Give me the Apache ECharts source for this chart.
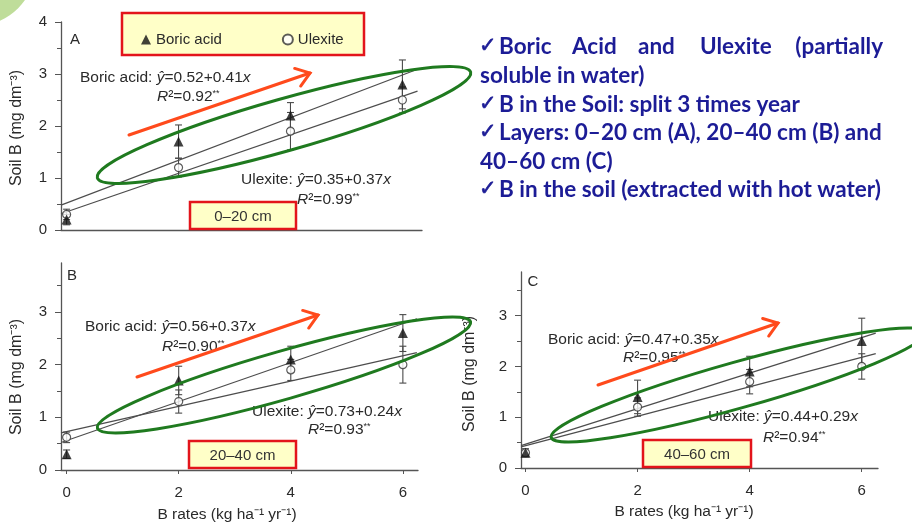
<!DOCTYPE html>
<html>
<head>
<meta charset="utf-8">
<script src="https://cdn.jsdelivr.net/npm/echarts@6/dist/echarts.min.js"></script>
<style>
  html, body { margin: 0; padding: 0; background: #ffffff; }
  #chart { width: 912px; height: 525px; }
</style>
</head>
<body>
<div id="chart"></div>
<script>
// B application rates (kg ha-1 yr-1)
const rates = [0, 2, 4, 6];
const rateTicks = [0, 2, 4, 6];

// Soil B (mg dm-3), hot-water extraction, per soil layer
const boricA = [0.2, 1.7, 2.2, 2.8];
const boricErrA = [0.1, 0.32, 0.25, 0.47];
const ulexA = [0.3, 1.2, 1.9, 2.5];
const ulexErrA = [0.1, 0.18, 0.36, 0.25];

const boricB = [0.3, 1.7, 2.1, 2.6];
const boricErrB = [0.08, 0.27, 0.25, 0.35];
const ulexB = [0.62, 1.3, 1.9, 2.0];
const ulexErrB = [0.1, 0.22, 0.2, 0.35];

const boricC = [0.3, 1.4, 1.9, 2.5];
const boricErrC = [0.05, 0.33, 0.3, 0.45];
const ulexC = [0.3, 1.2, 1.7, 2.0];
const ulexErrC = [0.08, 0.18, 0.24, 0.25];

// Linear fits: y = a + b x
const boricIntercept = [0.52, 0.56, 0.47];
const boricSlope = [0.41, 0.37, 0.35];
const boricR2 = [0.92, 0.90, 0.95];
const ulexIntercept = [0.35, 0.73, 0.44];
const ulexSlope = [0.37, 0.24, 0.29];
const ulexR2 = [0.99, 0.93, 0.94];

const panelLetters = ['A', 'B', 'C'];
const layerLabels = ['0–20 cm', '20–40 cm', '40–60 cm'];
const yTicksA = [0, 1, 2, 3, 4];
const yTicksBC = [0, 1, 2, 3];
const yMinorA = [0.5, 1.5, 2.5, 3.5];
const yMinorBC = [0.5, 1.5, 2.5, 3.5];

const seriesNames = ['Boric acid', 'Ulexite'];
const yAxisName = 'Soil B (mg dm⁻³)';
const xAxisName = 'B rates (kg ha⁻¹ yr⁻¹)';

const bullets = [
  'soluble in water)',
  'B in the Soil: split 3 times year',
  'Layers: 0–20 cm (A), 20–40 cm (B) and',
  '40–60 cm (C)',
  'B in the soil (extracted with hot water)'
];
const firstBulletWords = ['Boric', 'Acid', 'and', 'Ulexite', '(partially'];

// ---- layout ----
const FONT = '"Liberation Sans", Arial, sans-serif';
const grids = [
  { left: 61, top: 22, width: 361, height: 208 },
  { left: 61, top: 263, width: 357, height: 207 },
  { left: 521, top: 272, width: 357, height: 196 }
];
const xRange = [[-0.1, 6.35], [-0.1, 6.27], [-0.08, 6.29]];
const yMax = [4, 3.93, 3.86];
const fitEnd = [6.27, 6.25, 6.25];

const boric = [boricA, boricB, boricC];
const boricErr = [boricErrA, boricErrB, boricErrC];
const ulex = [ulexA, ulexB, ulexC];
const ulexErr = [ulexErrA, ulexErrB, ulexErrC];

const AXIS = '#555';
const TXT = '#2a2a2a';

function errorBar(params, api) {
  const x = api.value(0);
  const lo = api.coord([x, api.value(1)]);
  const hi = api.coord([x, api.value(2)]);
  const cap = 3.5;
  const st = { stroke: '#4a4a4a', lineWidth: 1.1 };
  return {
    type: 'group',
    children: [
      { type: 'line', shape: { x1: hi[0], y1: hi[1], x2: lo[0], y2: lo[1] }, style: st },
      { type: 'line', shape: { x1: hi[0] - cap, y1: hi[1], x2: hi[0] + cap, y2: hi[1] }, style: st },
      { type: 'line', shape: { x1: lo[0] - cap, y1: lo[1], x2: lo[0] + cap, y2: lo[1] }, style: st }
    ]
  };
}

const xAxes = [], yAxes = [], series = [];
grids.forEach((g, i) => {
  const showX = i > 0;
  xAxes.push({
    type: 'value', gridIndex: i, position: 'bottom', min: xRange[i][0], max: xRange[i][1],
    axisLine: { show: true, onZero: false, lineStyle: { color: AXIS, width: 1.3 } },
    axisTick: { show: showX, customValues: rateTicks, length: 4, lineStyle: { color: AXIS } },
    axisLabel: { show: showX, customValues: rateTicks, margin: 15, fontSize: 15, color: TXT, fontFamily: FONT },
    splitLine: { show: false }
  });
  const yt = i === 0 ? yTicksA : yTicksBC;
  const ym = i === 0 ? yMinorA : yMinorBC;
  yAxes.push({
    type: 'value', gridIndex: i, position: 'left', offset: 0, min: 0, max: yMax[i],
    axisLine: { show: true, onZero: false, lineStyle: { color: AXIS, width: 1.3 } },
    axisTick: { show: true, customValues: yt, length: 6, lineStyle: { color: AXIS } },
    axisLabel: { customValues: yt, margin: 14, fontSize: 15, color: TXT, fontFamily: FONT },
    splitLine: { show: false }
  });
  yAxes.push({
    type: 'value', gridIndex: i, position: 'left', offset: 0, min: 0, max: yMax[i],
    axisLine: { show: false, onZero: false },
    axisTick: { show: true, customValues: ym, length: 4, lineStyle: { color: AXIS } },
    axisLabel: { show: false },
    splitLine: { show: false }
  });

  const yi = 2 * i;
  // fitted regression lines
  [[boricIntercept, boricSlope], [ulexIntercept, ulexSlope]].forEach(([a, b], k) => {
    const x0 = xRange[i][0], x1 = fitEnd[i];
    series.push({
      type: 'line', name: seriesNames[k] + ' fit', xAxisIndex: i, yAxisIndex: yi,
      data: [[x0, a[i] + b[i] * x0], [x1, a[i] + b[i] * x1]],
      showSymbol: false, silent: true, z: 1,
      lineStyle: { color: '#4d4d4d', width: 1.2 }
    });
  });
  // error bars
  [[boric[i], boricErr[i]], [ulex[i], ulexErr[i]]].forEach(([m, e], k) => {
    series.push({
      type: 'custom', name: seriesNames[k] + ' sd', xAxisIndex: i, yAxisIndex: yi,
      renderItem: errorBar, silent: true, z: 2,
      encode: { x: 0, y: [1, 2] },
      data: rates.map((x, j) => [x, m[j] - e[j], m[j] + e[j]])
    });
  });
  // means
  series.push({
    type: 'scatter', name: seriesNames[0], xAxisIndex: i, yAxisIndex: yi,
    symbol: 'triangle', symbolSize: 10, z: 4,
    itemStyle: { color: '#111' },
    data: rates.map((x, j) => [x, boric[i][j]])
  });
  series.push({
    type: 'scatter', name: seriesNames[1], xAxisIndex: i, yAxisIndex: yi,
    symbol: 'circle', symbolSize: 8, z: 3,
    itemStyle: { color: '#fff', borderColor: '#333', borderWidth: 1.2 },
    data: rates.map((x, j) => [x, ulex[i][j]])
  });
});

// ---- annotations ----
const graphic = [];

// decorative corner leaf
graphic.push({ type: 'circle', shape: { cx: -25, cy: -35, r: 61 }, style: { fill: '#bfdd9a' }, z: 0 });

// legend frame
graphic.push({ type: 'rect', shape: { x: 122, y: 13, width: 242, height: 42 },
  style: { fill: '#ffffc8', stroke: '#e3141b', lineWidth: 2.5 }, z: 0 });

// layer tags
const tagBoxes = [
  { x: 190, y: 202, width: 106, height: 27 },
  { x: 189, y: 441, width: 107, height: 27 },
  { x: 643, y: 440, width: 108, height: 27 }
];
tagBoxes.forEach((b, i) => {
  graphic.push({ type: 'rect', shape: b, style: { fill: '#ffffc8', stroke: '#e3141b', lineWidth: 2.5 }, z: 5 });
  graphic.push({ type: 'text', x: b.x + b.width / 2, y: b.y + b.height / 2 + 1, z: 6,
    style: { text: layerLabels[i], fill: '#333', font: '15px ' + FONT, textAlign: 'center', textVerticalAlign: 'middle' } });
});

// panel letters
const letterPos = [[75, 40], [72, 276], [533, 282]];
letterPos.forEach((p, i) => graphic.push({ type: 'text', x: p[0], y: p[1], z: 6,
  style: { text: panelLetters[i], fill: TXT, font: '15px ' + FONT, textAlign: 'center', textVerticalAlign: 'middle' } }));

// axis titles
const yTitlePos = [[17, 128], [17, 377], [470, 374]];
yTitlePos.forEach(p => graphic.push({ type: 'text', x: p[0], y: p[1], rotation: Math.PI / 2, z: 6,
  style: { text: yAxisName, fill: TXT, font: '16px ' + FONT, textAlign: 'center', textVerticalAlign: 'middle' } }));
const xTitlePos = [[227, 515], [684, 512]];
xTitlePos.forEach(p => graphic.push({ type: 'text', x: p[0], y: p[1], z: 6,
  style: { text: xAxisName, fill: TXT, font: '15.5px ' + FONT, textAlign: 'center', textVerticalAlign: 'middle' } }));

// regression equations
const rich = {
  i: { fontStyle: 'italic', fontSize: 15.5, fontFamily: FONT, fill: TXT },
  s: { fontSize: 9, fontFamily: FONT, verticalAlign: 'top', fill: TXT }
};
function eqText(name, a, b) {
  return name + ': {i|ŷ}=' + a.toFixed(2) + '+' + b.toFixed(2) + '{i|x}';
}
function r2Text(r) {
  return '{i|R}²=' + r.toFixed(2) + '{s|**}';
}
const eqPos = [
  { boric: [80, 78], boricR: [157, 97], ulex: [241, 180], ulexR: [297, 200] },
  { boric: [85, 327], boricR: [162, 347], ulex: [252, 412], ulexR: [308, 430] },
  { boric: [548, 340], boricR: [623, 358], ulex: [708, 417], ulexR: [763, 438] }
];
eqPos.forEach((p, i) => {
  const items = [
    [p.boric, eqText(seriesNames[0], boricIntercept[i], boricSlope[i])],
    [p.boricR, r2Text(boricR2[i])],
    [p.ulex, eqText(seriesNames[1], ulexIntercept[i], ulexSlope[i])],
    [p.ulexR, r2Text(ulexR2[i])]
  ];
  items.forEach(([pos, txt]) => graphic.push({ type: 'text', x: pos[0], y: pos[1], z: 6,
    style: { text: txt, rich, fill: TXT, font: '15.5px ' + FONT, textAlign: 'left', textVerticalAlign: 'middle' } }));
});

// highlight ellipses
const ellipses = [
  { cx: 284, cy: 125, rx: 194, ry: 26, rot: 15.8 },
  { cx: 284, cy: 375, rx: 194, ry: 24, rot: 15.9 },
  { cx: 738, cy: 385, rx: 194, ry: 23, rot: 15.7 }
];
ellipses.forEach(e => graphic.push({ type: 'ellipse', z: 7,
  shape: { cx: e.cx, cy: e.cy, rx: e.rx, ry: e.ry },
  originX: e.cx, originY: e.cy, rotation: e.rot * Math.PI / 180,
  style: { fill: 'none', stroke: '#1f7a1f', lineWidth: 3 } }));

// trend arrows
const arrows = [[129, 135, 310, 73], [137, 377, 318, 315], [598, 385, 778, 323]];
arrows.forEach(([x1, y1, x2, y2]) => {
  const ang = Math.atan2(y2 - y1, x2 - x1);
  const L = 16, spread = 0.62;
  const st = { stroke: '#ff4a1c', lineWidth: 3, lineCap: 'round', fill: 'none' };
  graphic.push({ type: 'line', z: 7, shape: { x1, y1, x2, y2 }, style: st });
  graphic.push({ type: 'polyline', z: 7, shape: { points: [
    [x2 - L * Math.cos(ang - spread), y2 - L * Math.sin(ang - spread)],
    [x2, y2],
    [x2 - L * Math.cos(ang + spread), y2 - L * Math.sin(ang + spread)]
  ] }, style: st });
});

// notes block
const NOTE_FONT = 'bold 22.5px Lato, "Open Sans", sans-serif';
const NOTE_COLOR = '#1c1c96';
const CHECK_FONT = '21px "DejaVu Sans", sans-serif';
const noteRows = [47, 76, 105, 133, 162, 190];
const checked = [true, false, true, true, false, true];
noteRows.forEach((y, r) => {
  if (checked[r]) graphic.push({ type: 'text', x: 479, y, z: 6,
    style: { text: '✓', fill: NOTE_COLOR, stroke: NOTE_COLOR, lineWidth: 0.6, font: CHECK_FONT, textVerticalAlign: 'middle' } });
});
const wordX = [499, 572, 638, 700];
firstBulletWords.forEach((w, k) => {
  const last = k === firstBulletWords.length - 1;
  graphic.push({ type: 'text', x: last ? 883 : wordX[k], y: noteRows[0], z: 6,
    style: { text: w, fill: NOTE_COLOR, font: NOTE_FONT, textAlign: last ? 'right' : 'left', textVerticalAlign: 'middle' } });
});
bullets.forEach((t, k) => {
  const r = k + 1;
  graphic.push({ type: 'text', x: checked[r] ? 499 : 480, y: noteRows[r], z: 6,
    style: { text: t, fill: NOTE_COLOR, font: NOTE_FONT, textVerticalAlign: 'middle' } });
});

const chart = echarts.init(document.getElementById('chart'), null, { renderer: 'canvas' });
chart.setOption({
  animation: false,
  backgroundColor: '#ffffff',
  textStyle: { fontFamily: FONT },
  grid: grids.map(g => Object.assign({ containLabel: false }, g)),
  xAxis: xAxes,
  yAxis: yAxes,
  legend: {
    data: seriesNames, left: 136, top: 27, itemWidth: 10, itemHeight: 10, itemGap: 60,
    selectedMode: false, z: 5,
    textStyle: { fontSize: 15, color: TXT, fontFamily: FONT }
  },
  graphic: graphic,
  series: series
});
</script>
</body>
</html>
